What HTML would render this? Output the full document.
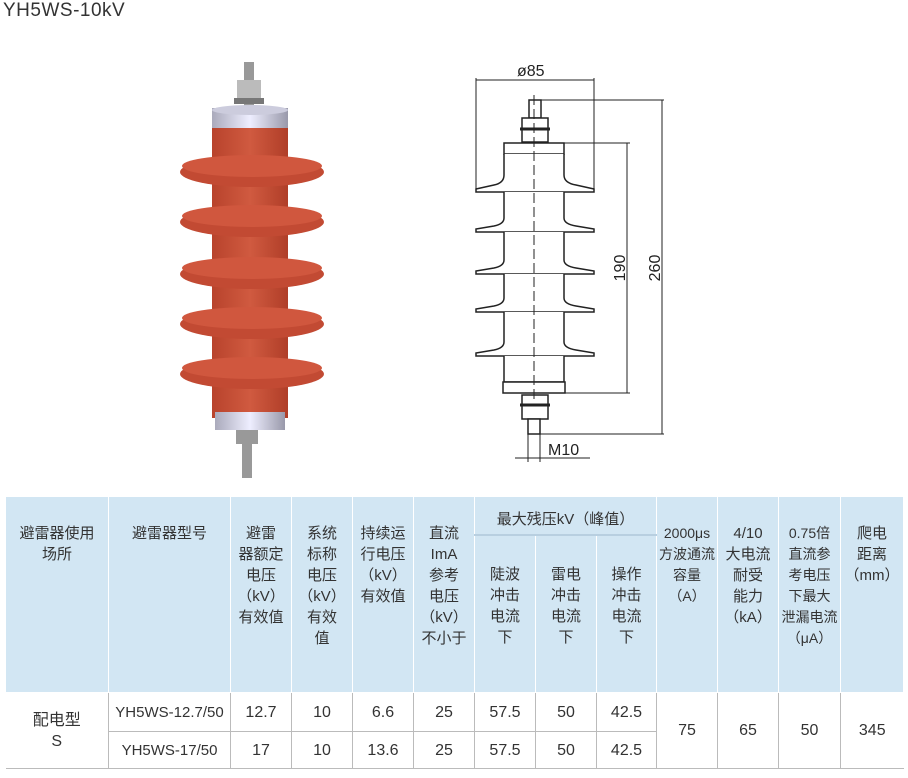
<!DOCTYPE html>
<html><head><meta charset="utf-8"><style>
body{margin:0;background:#fff;width:908px;height:778px;position:relative;overflow:hidden;font-family:"Liberation Sans","Noto Sans CJK SC",sans-serif;}
.title{position:absolute;left:3px;top:0px;font-size:19px;color:#333;letter-spacing:0.5px}
table{position:absolute;left:5px;top:496px;border-collapse:collapse;font-size:15px;color:#333;}
td{text-align:center;padding:0;line-height:21px;}
.h td{background:#d2e6f3;border:1px solid #fff;vertical-align:top}
.b td{border:1px solid #bbb;border-top:none;font-size:16px}
</style></head><body>
<div class="title">YH5WS-10kV</div>
<svg width="908" height="495" style="position:absolute;left:0;top:0">
<defs>
<linearGradient id="r" x1="0" x2="1"><stop offset="0" stop-color="#b8432c"/><stop offset="0.5" stop-color="#d05a40"/><stop offset="1" stop-color="#b03e28"/></linearGradient>
<linearGradient id="s" x1="0" x2="1"><stop offset="0" stop-color="#aab"/><stop offset="0.5" stop-color="#eef"/><stop offset="1" stop-color="#99a"/></linearGradient>
</defs>
<rect x="244" y="62" width="10" height="46" fill="#999"/>
<rect x="237" y="80" width="24" height="18" fill="#bbb"/>
<rect x="234" y="98" width="30" height="6" fill="#777"/>
<rect x="212" y="108" width="76" height="26" fill="url(#s)"/>
<ellipse cx="250" cy="110" rx="38" ry="5" fill="#ccd"/>
<rect x="212" y="128" width="76" height="290" fill="url(#r)"/>
<g fill="#c24a33">
<ellipse cx="252" cy="172" rx="72" ry="15"/><ellipse cx="252" cy="222" rx="72" ry="15"/><ellipse cx="252" cy="274" rx="72" ry="15"/><ellipse cx="252" cy="324" rx="72" ry="15"/><ellipse cx="252" cy="374" rx="72" ry="15"/>
</g>
<g fill="#d0573e">
<ellipse cx="252" cy="166" rx="70" ry="11"/><ellipse cx="252" cy="216" rx="70" ry="11"/><ellipse cx="252" cy="268" rx="70" ry="11"/><ellipse cx="252" cy="318" rx="70" ry="11"/><ellipse cx="252" cy="368" rx="70" ry="11"/>
</g>
<rect x="215" y="412" width="70" height="18" fill="url(#s)"/>
<rect x="236" y="430" width="22" height="14" fill="#999"/>
<rect x="242" y="444" width="10" height="34" fill="#999"/>
<g stroke="#222" stroke-width="1.5" fill="#fff">
<line x1="476" y1="80" x2="594" y2="80" stroke-width="1"/>
<line x1="476" y1="78" x2="476" y2="190" stroke-width="1"/>
<line x1="594" y1="78" x2="594" y2="190" stroke-width="1"/>
<line x1="540" y1="100" x2="664" y2="100" stroke-width="1"/>
<line x1="564" y1="143" x2="630" y2="143" stroke-width="1"/>
<line x1="564" y1="393" x2="630" y2="393" stroke-width="1"/>
<line x1="540" y1="434" x2="664" y2="434" stroke-width="1"/>
<line x1="627" y1="143" x2="627" y2="393" stroke-width="1"/>
<line x1="662" y1="100" x2="662" y2="434" stroke-width="1"/>
<rect x="529" y="100" width="12" height="18"/>
<rect x="522" y="118" width="26" height="24"/>
<line x1="520" y1="129" x2="550" y2="129" stroke-width="3"/>
<path d="M504 143 H564 V154 H504Z"/>
<path d="M504 154 V175 Q504 183 494 185 L476 189 V192 H594 V189 L576 185 Q564 183 564 175 V154"/>
<path d="M504 192 V218 Q504 224 494 226 L476 229 V232 H594 V229 L576 226 Q564 224 564 218 V192"/>
<path d="M504 232 V260 Q504 266 494 268 L476 271 V274 H594 V271 L576 268 Q564 266 564 260 V232"/>
<path d="M504 274 V298 Q504 304 494 306 L476 309 V312 H594 V309 L576 306 Q564 304 564 298 V274"/>
<path d="M504 312 V342 Q504 348 494 350 L476 353 V356 H594 V353 L576 350 Q564 348 564 342 V312"/>
<path d="M504 356 V382 H564 V356"/>
<rect x="503" y="382" width="62" height="11"/>
<rect x="522" y="395" width="26" height="24"/>
<line x1="520" y1="405" x2="550" y2="405" stroke-width="3"/>
<rect x="528" y="419" width="12" height="15"/>
<line x1="528" y1="434" x2="528" y2="462" stroke-width="1"/>
<line x1="540" y1="434" x2="540" y2="462" stroke-width="1"/>
<line x1="515" y1="458" x2="590" y2="458" stroke-width="1"/>
<line x1="534" y1="95" x2="534" y2="400" stroke-width="1" stroke-dasharray="10,4"/>
</g>
<text x="517" y="76" font-size="16" fill="#222" font-family="Liberation Sans">ø85</text>
<text x="548" y="455" font-size="16" fill="#222" font-family="Liberation Sans">M10</text>
<text transform="translate(625,268) rotate(-90)" font-size="16" fill="#222" text-anchor="middle" font-family="Liberation Sans">190</text>
<text transform="translate(660,268) rotate(-90)" font-size="16" fill="#222" text-anchor="middle" font-family="Liberation Sans">260</text>
</svg>
<table>
<colgroup><col style="width:103px"><col style="width:122px"><col style="width:61px"><col style="width:61px"><col style="width:61px"><col style="width:61px"><col style="width:61px"><col style="width:61px"><col style="width:60px"><col style="width:61px"><col style="width:61px"><col style="width:62px"><col style="width:63px"></colgroup>
<tr class="h" style="height:38px"><td rowspan="2" style="padding-top:26px">避雷器使用<br>场所</td><td rowspan="2" style="padding-top:26px">避雷器型号</td><td rowspan="2" style="padding-top:26px">避雷<br>器额定<br>电压<br>（kV）<br>有效值</td><td rowspan="2" style="padding-top:26px">系统<br>标称<br>电压<br>（kV）<br>有效<br>值</td><td rowspan="2" style="padding-top:26px">持续运<br>行电压<br>（kV）<br>有效值</td><td rowspan="2" style="padding-top:26px">直流<br>ImA<br>参考<br>电压<br>（kV）<br>不小于</td><td colspan="3" style="padding-top:12px;border-bottom:2px solid #b8cfe0">最大残压kV（峰值）</td><td rowspan="2" style="padding-top:26px;font-size:14px">2000μs<br>方波通流<br>容量<br>（A）</td><td rowspan="2" style="padding-top:26px">4/10<br>大电流<br>耐受<br>能力<br>（kA）</td><td rowspan="2" style="padding-top:26px;font-size:14px">0.75倍<br>直流参<br>考电压<br>下最大<br>泄漏电流<br>（μA）</td><td rowspan="2" style="padding-top:26px">爬电<br>距离<br>（mm）</td></tr>
<tr class="h" style="height:158px"><td style="padding-top:28px">陡波<br>冲击<br>电流<br>下</td><td style="padding-top:28px">雷电<br>冲击<br>电流<br>下</td><td style="padding-top:28px">操作<br>冲击<br>电流<br>下</td></tr>
<tr class="b" style="height:39px"><td rowspan="2" style="border-left:none">配电型<br>S</td><td style="font-size:15px">YH5WS-12.7/50</td><td>12.7</td><td>10</td><td>6.6</td><td>25</td><td>57.5</td><td>50</td><td>42.5</td><td rowspan="2">75</td><td rowspan="2">65</td><td rowspan="2">50</td><td rowspan="2" style="border-right:none">345</td></tr>
<tr class="b" style="height:37px"><td style="font-size:15px">YH5WS-17/50</td><td>17</td><td>10</td><td>13.6</td><td>25</td><td>57.5</td><td>50</td><td>42.5</td></tr>
</table>
</body></html>
